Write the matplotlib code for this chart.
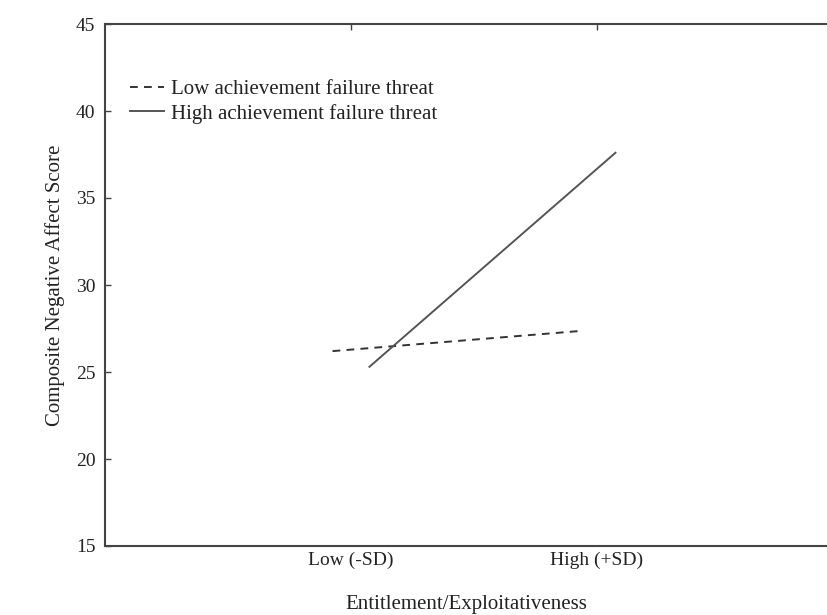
import matplotlib
matplotlib.use("Agg")
import matplotlib.pyplot as plt

plt.rcParams['font.family'] = ['Liberation Serif', 'DejaVu Serif']

categories = ["Low (-SD)", "High (+SD)"]
cat_pos = [1, 2]
low_threat = [26.2, 27.35]
high_threat = [25.3, 37.6]
series_labels = ["Low achievement failure threat", "High achievement failure threat"]
y_ticks = [15, 20, 25, 30, 35, 40, 45]

offset = 0.075

fig = plt.figure(figsize=(8.27, 6.15), dpi=100)
ax = fig.add_axes([105/827, 1 - 546/615, 1 - 105/827, (546 - 24)/615])

ax.plot([p - offset for p in cat_pos], low_threat, linestyle=(0, (4, 3.2)),
        color='#333333', linewidth=1.4, label=series_labels[0])
ax.plot([p + offset for p in cat_pos], high_threat, linestyle='-',
        color='#555555', linewidth=1.4, label=series_labels[1])

ax.set_xlim(0, 2.935)
ax.set_ylim(15, 45)
ax.set_yticks(y_ticks)
ax.set_xticks(cat_pos)
ax.set_xticklabels(categories)

for s in ['left', 'top', 'bottom']:
    ax.spines[s].set_color('#444444')
    ax.spines[s].set_linewidth(1.5)
ax.spines['right'].set_visible(False)

ax.tick_params(axis='y', direction='in', length=4, width=1, colors='#444444',
               labelcolor='#222222', labelsize=14, pad=7)
ax.tick_params(axis='x', direction='in', length=4, width=1, colors='#444444',
               labelcolor='#222222', labelsize=14, pad=4, top=True, bottom=False)

ax.set_ylabel("Composite Negative Affect Score", fontsize=15, color='#222222', labelpad=8)
ax.set_xlabel("Entitlement/Exploitativeness", fontsize=15, color='#222222', labelpad=19)

leg = ax.legend(loc='upper left', bbox_to_anchor=(0.035, 0.893), frameon=False,
                fontsize=15, handlelength=1.6, handletextpad=0.35,
                labelspacing=0.2, borderaxespad=0, borderpad=0)
for t in leg.get_texts():
    t.set_color('#222222')

fig.savefig("out.png", dpi=100, facecolor='white')
